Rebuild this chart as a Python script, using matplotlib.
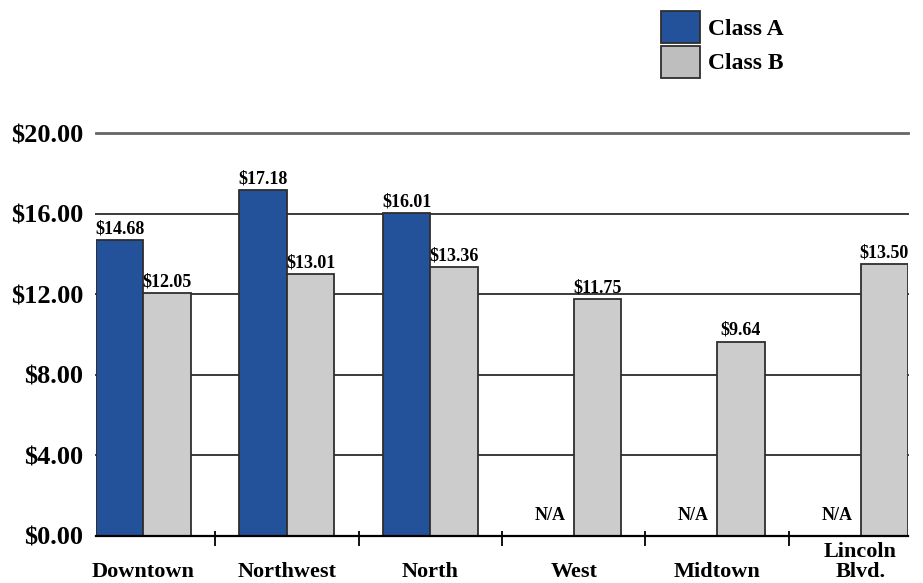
import matplotlib
matplotlib.use("Agg")
import matplotlib.pyplot as plt
import matplotlib.transforms as mtransforms
from matplotlib.patches import Patch
import numpy as np

# Average asking rents by submarket
categories = ["Downtown", "Northwest", "North", "West", "Midtown", "Lincoln\nBlvd."]
class_a = [14.68, 17.18, 16.01, None, None, None]
class_b = [12.05, 13.01, 13.36, 11.75, 9.64, 13.50]
series_names = ["Class A", "Class B"]
y_ticks = [0, 4, 8, 12, 16, 20]

BLUE = "#23519A"
GRAY = "#CCCCCC"
EDGE = "#2E2E2E"
FONT = "Liberation Serif"

plt.rcParams["font.family"] = [FONT, "DejaVu Serif"]
plt.rcParams["font.weight"] = "bold"

W, H, DPI = 923, 583, 100
PT = 72 / DPI  # points per pixel
fig = plt.figure(figsize=(W / DPI, H / DPI), dpi=DPI)
ax = fig.add_axes([96 / W, (H - 536) / H, (908 - 96) / W, (536 - 133) / H])

x = np.arange(len(categories))
bw = 0.331

# gridlines behind the bars
for yv in y_ticks[1:]:
    col = "#666666" if yv == 20 else "#3a3a3a"
    lw = 2.0 if yv == 20 else 1.4
    ax.axhline(yv, color=col, lw=lw, zorder=0, clip_on=False)

for i, (a, b) in enumerate(zip(class_a, class_b)):
    if a is not None:
        ax.bar(x[i] - bw / 2, a, width=bw, color=BLUE, edgecolor=EDGE, linewidth=1.3, zorder=2)
        ax.annotate(f"${a:.2f}", (x[i] - bw / 2, a), xytext=(0, 2), textcoords="offset points",
                    ha="center", va="bottom", fontsize=13, fontweight="bold")
    else:
        ax.annotate("N/A", (x[i] - bw / 2, 0), xytext=(0, 9), textcoords="offset points",
                    ha="center", va="bottom", fontsize=13, fontweight="bold")
    ax.bar(x[i] + bw / 2, b, width=bw, color=GRAY, edgecolor=EDGE, linewidth=1.3, zorder=2)
    ax.annotate(f"${b:.2f}", (x[i] + bw / 2, b), xytext=(0, 2), textcoords="offset points",
                ha="center", va="bottom", fontsize=13, fontweight="bold")

ax.set_xlim(-bw, len(categories) - 1 + bw)
ax.set_ylim(0, 20)

for s in ["top", "right", "left"]:
    ax.spines[s].set_visible(False)
ax.spines["bottom"].set_color("black")
ax.spines["bottom"].set_linewidth(1.6)
ax.spines["bottom"].set_zorder(3)

ax.set_yticks(y_ticks)
ax.set_yticklabels([f"${v:.2f}" for v in y_ticks], fontsize=19, fontweight="bold")
ax.tick_params(axis="y", length=0, pad=13 * PT)

ax.set_xticks([])

# separators between submarkets, crossing the baseline
trans = mtransforms.blended_transform_factory(ax.transData, ax.transAxes)
px = 1.0 / (536 - 133)
sep = x[:-1] + 0.5
ax.vlines(sep, -10 * px, 5 * px, transform=trans, color="black", lw=1.3, clip_on=False, zorder=4)

# category labels, last line on a common baseline
for xi, name in zip(x, categories):
    ax.text(xi, -41 * px, name, transform=trans, ha="center", va="baseline",
            fontsize=16, fontweight="bold", linespacing=1.0)

handles = [Patch(facecolor=BLUE, edgecolor=EDGE, linewidth=1.3),
           Patch(facecolor="#BEBEBE", edgecolor=EDGE, linewidth=1.3)]
fs = 17
fs_px = fs * DPI / 72
leg = fig.legend(handles, series_names, loc="upper left",
                 bbox_to_anchor=(661 / W, 1 - 11 / H), bbox_transform=fig.transFigure,
                 frameon=False, prop={"family": FONT, "weight": "bold", "size": fs},
                 handlelength=39 / fs_px, handleheight=40 / fs_px,
                 handletextpad=8 / fs_px, labelspacing=3 / fs_px,
                 borderpad=0, borderaxespad=0)

fig.savefig("out.png", dpi=DPI)
